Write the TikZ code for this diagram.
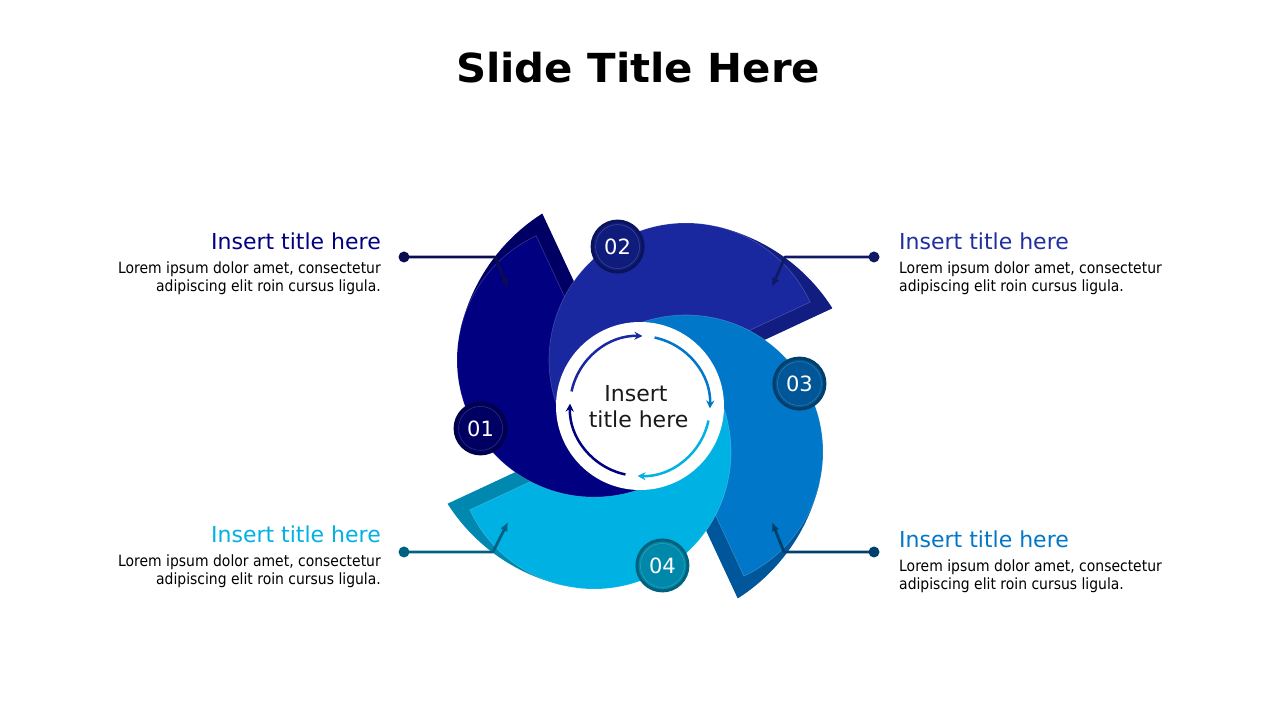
\documentclass[tikz,border=0pt]{standalone}
\usepackage{fontspec}
\setmainfont{DejaVu Sans}
\newfontfamily\titlefont{DejaVu Sans}[FakeStretch=1.045]
\newfontfamily\bodyfont{DejaVu Sans}[FakeStretch=0.9]
\usetikzlibrary{arrows.meta,calc}
\definecolor{c1}{HTML}{000080}
\definecolor{c1d}{HTML}{000064}
\definecolor{c1b}{HTML}{000062}
\definecolor{c1r}{HTML}{00004A}
\definecolor{c1l}{HTML}{0C0C52}
\definecolor{c2}{HTML}{1A28A0}
\definecolor{c2d}{HTML}{111D80}
\definecolor{c2b}{HTML}{0F1C7C}
\definecolor{c2r}{HTML}{0A145C}
\definecolor{c2l}{HTML}{101A64}
\definecolor{c2t}{HTML}{1F2F9F}
\definecolor{c3}{HTML}{0077C8}
\definecolor{c3d}{HTML}{00569A}
\definecolor{c3b}{HTML}{005696}
\definecolor{c3r}{HTML}{003E6C}
\definecolor{c3l}{HTML}{00406C}
\definecolor{c4}{HTML}{00B2E3}
\definecolor{c4d}{HTML}{0088B0}
\definecolor{c4b}{HTML}{0088AA}
\definecolor{c4r}{HTML}{00627C}
\definecolor{c4l}{HTML}{006280}
\newcommand\piecedark[3]{%
  \begin{scope}[shift={(#1)},rotate=#2]
    \begin{scope}
      \clip (0,-15) -- (260,-15) -- (52:300pt) -- (0,0) -- cycle;
      \fill[#3] (-30.8,-39.4) circle[radius=187pt];
    \end{scope}
  \end{scope}}
\newcommand\piecelight[3]{%
  \begin{scope}[shift={(#1)},rotate=#2]
    \fill[#3] (0,0) -- (137,0) arc[start angle=0,end angle=185,radius=137pt] -- cycle;
    \draw[white,draw opacity=0.2,line width=0.6pt] (0,0) -- (137,0) arc[start angle=0,end angle=185,radius=137pt] -- cycle;
  \end{scope}}
\begin{document}
\begin{tikzpicture}[x=1pt,y=1pt,
  badge/.style={circle,inner sep=0pt,minimum size=51pt,line width=3pt,text=white,font=\fontsize{21}{21}\selectfont},
  leader/.style={line width=2.8pt,line join=round,-{Latex[length=9pt,width=8pt]}},
  hubarrow/.style={line width=2.5pt,-{Stealth[length=8pt,width=8pt]}},
  sidetitle/.style={inner sep=0pt,font=\fontsize{22}{22}\selectfont},
  sidebody/.style={inner sep=0pt,text=black,font=\bodyfont\fontsize{15.5}{19}\selectfont}]
\useasboundingbox (0,0) rectangle (1280,720);
\fill[white] (0,0) rectangle (1280,720);
\coordinate (O) at (640,314);
\coordinate (C1) at ($(O)+(135:65pt)$);
\coordinate (C2) at ($(O)+(45:65pt)$);
\coordinate (C3) at ($(O)+(-45:65pt)$);
\coordinate (C4) at ($(O)+(-135:65pt)$);
% pieces
\piecedark{C1}{115}{c1d}\piecelight{C1}{115}{c1}
\piecedark{C2}{25}{c2d}\piecelight{C2}{25}{c2}
\piecedark{C3}{-65}{c3d}\piecelight{C3}{-65}{c3}
\piecedark{C4}{-155}{c4d}\piecelight{C4}{-155}{c4}
\begin{scope}
  \clip (440,200) rectangle (645,280);
  \piecelight{C1}{115}{c1}
\end{scope}
% hub
\node[circle,fill=white,minimum size=168pt,inner sep=0pt] (hub) at (O) {};
\foreach \s/\c in {168/c2,78/c3,-12/c4,-102/c1}
  \draw[hubarrow,\c] ($(O)+(\s:70pt)$) arc[start angle=\s,end angle=\s-80,radius=70pt];
\node[anchor=base,inner sep=0pt,font=\fontsize{22}{22}\selectfont,text=black!90] (hubA) at (636,318.3) {Insert};
\node[anchor=base,inner sep=0pt,font=\fontsize{22}{22}\selectfont,text=black!90] (hubB) at (638.6,292.3) {title here};
% leaders
\coordinate (d1) at (404,463); \coordinate (k1) at (495,463); \coordinate (e1) at (508,432);
\coordinate (d2) at (874,463); \coordinate (k2) at (785,463); \coordinate (e2) at (772,433);
\coordinate (d3) at (874,168); \coordinate (k3) at (784,168); \coordinate (e3) at (772,198);
\coordinate (d4) at (404,168); \coordinate (k4) at (493,168); \coordinate (e4) at (508,198);
\foreach \i in {1,2,3,4}{
  \fill[c\i l] (d\i) circle[radius=5.5pt];
  \draw[leader,c\i l] (d\i) -- (k\i) -- (e\i);
}
% badges
\node[badge,fill=c1b,draw=c1r] (b1) at ($(O)+(188:161pt)$) {01};
\node[badge,fill=c2b,draw=c2r] (b2) at ($(O)+(98:161pt)$) {02};
\node[badge,fill=c3b,draw=c3r] (b3) at ($(O)+(8:161pt)$) {03};
\node[badge,fill=c4b,draw=c4r] (b4) at ($(O)+(-82:161pt)$) {04};
\foreach \i in {1,2,3,4}
  \draw[white,draw opacity=0.2,line width=0.5pt] (b\i.center) circle[radius=22pt];
% title
\node[anchor=base,inner sep=0pt,font=\titlefont\bfseries\fontsize{40}{42}\selectfont] (title) at (638,637) {Slide Title Here};
% side texts
\node[sidetitle,anchor=base east,text=c1] (h1) at (381,470) {Insert title here};
\node[sidebody,anchor=base east] (p1a) at (381,446.7) {Lorem ipsum dolor amet, consectetur};
\node[sidebody,anchor=base east] (p1b) at (381,428.3) {adipiscing elit roin cursus ligula.};
\node[sidetitle,anchor=base west,text=c2t] (h2) at (899,470) {Insert title here};
\node[sidebody,anchor=base west] (p2a) at (899,446.7) {Lorem ipsum dolor amet, consectetur};
\node[sidebody,anchor=base west] (p2b) at (899,428.3) {adipiscing elit roin cursus ligula.};
\node[sidetitle,anchor=base west,text=c3] (h3) at (899,172) {Insert title here};
\node[sidebody,anchor=base west] (p3a) at (899,148.7) {Lorem ipsum dolor amet, consectetur};
\node[sidebody,anchor=base west] (p3b) at (899,130.3) {adipiscing elit roin cursus ligula.};
\node[sidetitle,anchor=base east,text=c4] (h4) at (381,177) {Insert title here};
\node[sidebody,anchor=base east] (p4a) at (381,153.7) {Lorem ipsum dolor amet, consectetur};
\node[sidebody,anchor=base east] (p4b) at (381,135.3) {adipiscing elit roin cursus ligula.};
\end{tikzpicture}
\end{document}
